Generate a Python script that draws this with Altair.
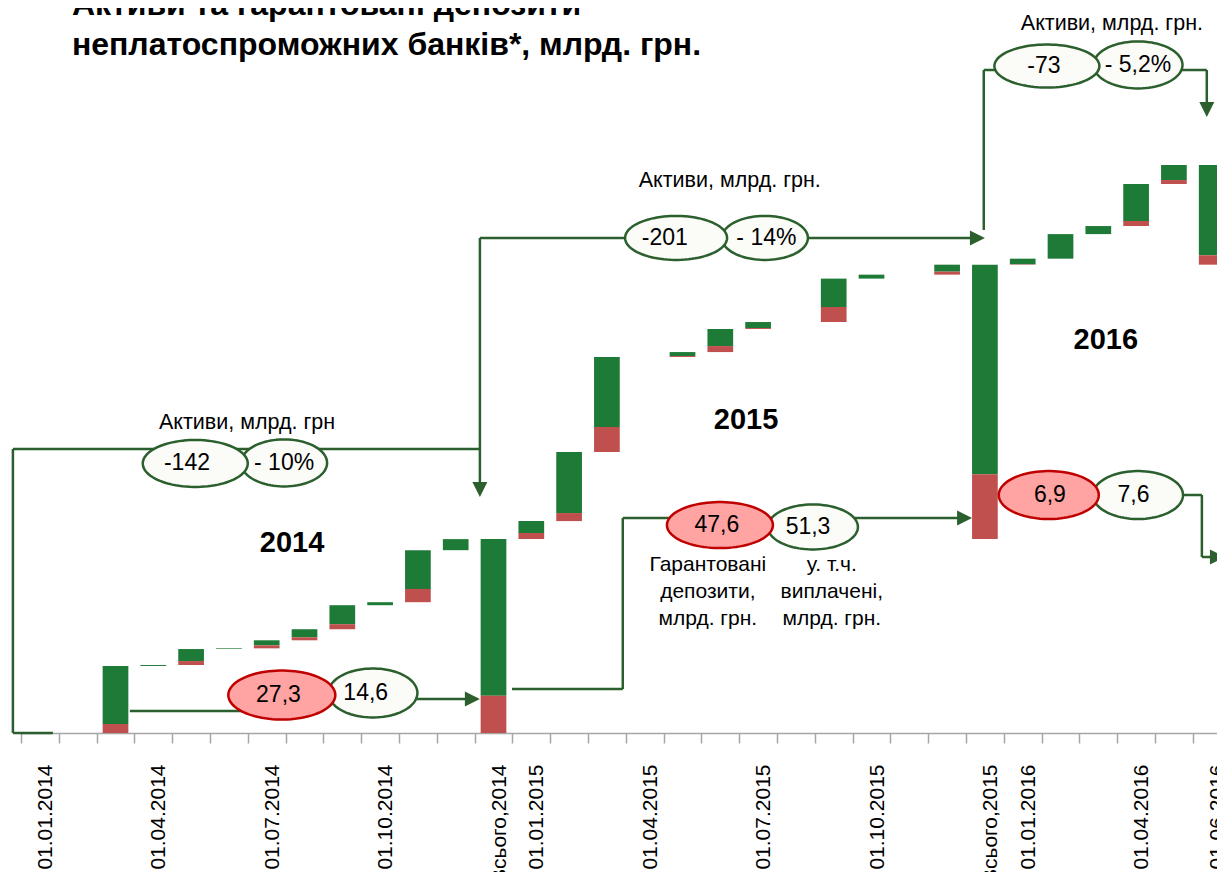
import json
import numpy as np
import pandas as pd
import altair as alt

FONT = "Liberation Sans"
GREEN = "#1e7a37"
RED = "#c0504d"
LINE = "#2b5f2d"

# ---------------- data ----------------
categories = [
    "01.01.2014", "01.02.2014", "01.03.2014", "01.04.2014", "01.05.2014", "01.06.2014",
    "01.07.2014", "01.08.2014", "01.09.2014", "01.10.2014", "01.11.2014", "01.12.2014",
    "Всього,2014",
    "01.01.2015", "01.02.2015", "01.03.2015", "01.04.2015", "01.05.2015", "01.06.2015",
    "01.07.2015", "01.08.2015", "01.09.2015", "01.10.2015", "01.11.2015", "01.12.2015",
    "Всього,2015",
    "01.01.2016", "01.02.2016", "01.03.2016", "01.04.2016", "01.05.2016",
    "01.06.2016",
]
# assets of insolvent banks (bn UAH), incl. guaranteed deposits
assets = [0, 0, 49.1, 0.7, 11.7, 0.5, 5.9, 8.1, 17.6, 2.2, 38.1, 8.1,
          142.0,
          13.2, 50.6, 69.6, 0, 3.6, 16.9, 5.1, 0, 31.8, 2.9, 0, 7.3,
          201.0,
          4.4, 18.0, 5.9, 30.8, 13.9,
          73.0]
deposits = [0, 0, 6.6, 0, 2.9, 0, 2.2, 2.2, 3.7, 0, 9.7, 0,
            27.3,
            4.4, 5.9, 18.3, 0, 0.7, 4.4, 0.7, 0, 11.0, 0, 0, 2.2,
            47.6,
            0.3, 0, 0, 3.7, 2.9,
            6.9]
is_total = [False] * 12 + [True] + [False] * 12 + [True] + [False] * 5 + [True]

axis_labels = [c if k in (0, 3, 6, 9, 12, 13, 16, 19, 22, 25, 26, 29, 31) else ""
               for k, c in enumerate(categories)]

# annotation ellipses
ell_text = ["- 10%", "-142", "14,6", "27,3", "- 14%", "-201", "51,3", "47,6",
            "- 5,2%", "-73", "7,6", "6,9"]
ell_x = [6.46, 4.11, 8.81, 6.40, 19.18, 16.83, 20.45, 17.99, 29.05, 26.64, 29.05, 26.69]
ell_y = [197.8, 197.4, 29.3, 27.8, 362.6, 362.6, 150.9, 152.3, 489.3, 488.5, 174.3, 174.3]
ell_w = [86, 105, 89, 107, 86, 102, 90, 106, 89, 105, 90, 100]
ell_h = [47, 47, 49, 49, 44, 44, 45, 46, 47, 43, 48, 48]
ell_tx = [6.46, 3.89, 8.62, 6.31, 19.22, 16.53, 20.32, 17.91, 29.05, 26.56, 28.93, 26.72]
ell_fill = ["#fbfbf8", "#fbfbf8", "#fbfbf8", "#ffa3a3", "#fbfbf8", "#fbfbf8",
            "#fbfbf8", "#ffa3a3", "#fbfbf8", "#fbfbf8", "#fbfbf8", "#ffa3a3"]
ell_stroke = [LINE, LINE, LINE, "#c00000", LINE, LINE, LINE, "#c00000",
              LINE, LINE, LINE, "#c00000"]

# connector segments
seg_x1 = [-0.714, -0.714, -0.714, 11.64, 11.64, 24.97, 24.97, 30.87, 2.38, 8.81, 12.49, 15.42, 15.42, 29.05, 30.74, 30.74]
seg_y1 = [0, 0, 208.0, 362.6, 362.6, 368.4, 485.6, 485.6, 16.1, 24.9, 32.2, 32.2, 157.5, 174.3, 174.3, 128.9]
seg_x2 = [0.344, -0.714, 11.64, 11.64, 24.8, 24.97, 30.87, 30.87, 6.4, 11.5, 15.42, 15.42, 24.5, 30.74, 30.74, 31.2]
seg_y2 = [0, 208.0, 208.0, 176, 362.6, 485.6, 485.6, 454, 16.1, 24.9, 32.2, 157.5, 157.5, 174.3, 128.9, 128.9]

# arrow heads (tip positions)
arr_x = [11.64, 25.0, 30.87, 11.64, 24.66, 31.35]
arr_y = [172.9, 362.6, 451.2, 24.9, 157.5, 128.9]
arr_dir = ["down", "right", "down", "right", "right", "right"]

# free texts
lab_text = ["Активи, млрд. грн", "Активи, млрд. грн.", "Активи, млрд. грн."]
lab_x = [5.48, 18.25, 28.36]
lab_y = [227.1, 404.3, 519.3]
year_text = ["2014", "2015", "2016"]
year_x = [6.67, 18.68, 28.20]
year_y = [139.2, 229.3, 287.8]
note_text = ["Гарантовані\nдепозити,\nмлрд. грн.", "у. т.ч.\nвиплачені,\nмлрд. грн."]
note_x = [17.67, 20.95]
note_y = [123.0, 123.0]
title_lines = ["Активи та гарантовані депозити", "неплатоспроможних банків*, млрд. грн."]
title_x = [0.847, 0.847]
title_y = [525.9, 496.6]

# ---------------- waterfall table ----------------
rows = []
cum = 0.0
year_start = 0.0
for i, (lab, a, d, t) in enumerate(zip(categories, assets, deposits, is_total)):
    if t:
        b = year_start
        year_start = cum
    else:
        b = cum
        cum += a
    rows.append(dict(i=i, lab=lab, xa=i - 0.34, xb=i + 0.34,
                     r0=b, r1=b + d, g0=b + d, g1=b + a))
bars = pd.DataFrame(rows)
green_df = bars[bars.g1 > bars.g0]
red_df = bars[bars.r1 > bars.r0]


def ellipse_path(ratio, n=90):
    pts = [f"{np.cos(t):.4f},{ratio * np.sin(t):.4f}"
           for t in np.linspace(0, 2 * np.pi, n, endpoint=False)]
    return "M" + " L".join(pts) + " Z"


ell = pd.DataFrame(dict(text=ell_text, x=ell_x, y=ell_y, tx=ell_tx,
                        fill=ell_fill, stroke=ell_stroke))
ell["path"] = [ellipse_path(h / w) for w, h in zip(ell_w, ell_h)]
ell["size"] = [w * w for w in ell_w]
ell["order"] = range(len(ell))

segs = pd.DataFrame(dict(x1=seg_x1, y1=seg_y1, x2=seg_x2, y2=seg_y2))
ARROW = {"right": "M0,0 L-2,-1 L-2,1 Z", "down": "M0,0 L-1,-2 L1,-2 Z"}
arrows = pd.DataFrame(dict(x=arr_x, y=arr_y, path=[ARROW[d] for d in arr_dir]))
labs = pd.DataFrame(dict(text=lab_text, x=lab_x, y=lab_y))
years = pd.DataFrame(dict(text=year_text, x=year_x, y=year_y))
notes = pd.DataFrame(dict(text=note_text, x=note_x, y=note_y))
titles = pd.DataFrame(dict(text=title_lines, x=title_x, y=title_y))

# ---------------- scales / axes ----------------
xscale = alt.Scale(domain=[-0.5, 31.14], nice=False, zero=False)
yscale = alt.Scale(domain=[0, 531], nice=False, zero=False)
label_expr = json.dumps(axis_labels, ensure_ascii=False) + "[round(datum.value + 0.5)]"
xaxis = alt.Axis(values=[k - 0.5 for k in range(32)], labelExpr=label_expr,
                 labelAngle=270, labelOffset=24.4, labelPadding=21,
                 tickSize=10, tickColor="#a6a6a6", tickWidth=1.5,
                 domainColor="#a6a6a6", domainWidth=1.5,
                 labelFont=FONT, labelFontSize=21, labelColor="#000000",
                 labelOverlap=False, labelBound=False, labelFlush=False,
                 grid=False, title=None)


def X(f):
    return alt.X(f"{f}:Q", scale=xscale, axis=xaxis, title=None)


def Y(f):
    return alt.Y(f"{f}:Q", scale=yscale, axis=None, title=None)


green_layer = alt.Chart(green_df).mark_rect(color=GREEN).encode(
    x=X("xa"), x2="xb", y=Y("g0"), y2="g1")
red_layer = alt.Chart(red_df).mark_rect(color=RED).encode(
    x=X("xa"), x2="xb", y=Y("r0"), y2="r1")

seg_layer = alt.Chart(segs).mark_rule(color=LINE, strokeWidth=2.5).encode(
    x=X("x1"), x2="x2", y=Y("y1"), y2="y2")

arrow_layer = alt.Chart(arrows).mark_point(filled=True, opacity=1, color=LINE,
                                           strokeWidth=0).encode(
    x=X("x"), y=Y("y"),
    shape=alt.Shape("path:N", scale=None),
    size=alt.Size("s:Q", scale=None)).transform_calculate(s="225")

ell_layer = alt.Chart(ell).mark_point(filled=True, opacity=1, strokeWidth=2.5).encode(
    x=X("x"), y=Y("y"),
    shape=alt.Shape("path:N", scale=None),
    size=alt.Size("size:Q", scale=None),
    fill=alt.Fill("fill:N", scale=None),
    stroke=alt.Stroke("stroke:N", scale=None),
    order=alt.Order("order:Q"))

ell_text_layer = alt.Chart(ell).mark_text(font=FONT, fontSize=23, color="#000000",
                                          baseline="middle", align="center").encode(
    x=X("tx"), y=Y("y"), text="text:N")

lab_layer = alt.Chart(labs).mark_text(font=FONT, fontSize=21.5, color="#000000",
                                      baseline="middle", align="center").encode(
    x=X("x"), y=Y("y"), text="text:N")

year_layer = alt.Chart(years).mark_text(font=FONT, fontSize=29, fontWeight="bold",
                                        color="#000000", baseline="middle",
                                        align="center").encode(
    x=X("x"), y=Y("y"), text="text:N")

note_layer = alt.Chart(notes).mark_text(font=FONT, fontSize=21, color="#000000",
                                        baseline="middle", align="center",
                                        lineBreak="\n", lineHeight=27).encode(
    x=X("x"), y=Y("y"), text="text:N")

title_layer = alt.Chart(titles).mark_text(font=FONT, fontSize=32, fontWeight="bold",
                                          color="#000000", baseline="alphabetic",
                                          align="left").encode(
    x=X("x"), y=Y("y"), text="text:N")

chart = alt.layer(
    green_layer, red_layer, seg_layer, arrow_layer, ell_layer, ell_text_layer,
    lab_layer, year_layer, note_layer, title_layer
).properties(
    width=1196, height=725,
    autosize=alt.AutoSizeParams(type="none"),
    padding={"left": 13, "top": 0, "right": 0, "bottom": 139},
    background="white",
).configure_view(stroke=None)

chart.save("out.html", embed_options={"renderer": "svg", "actions": False})
